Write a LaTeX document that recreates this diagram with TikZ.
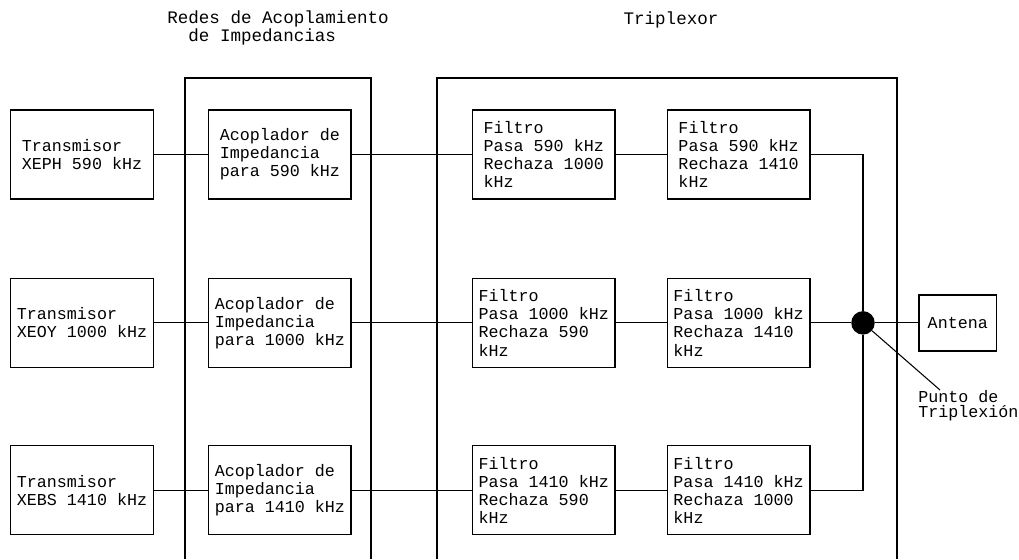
\documentclass[tikz,border=0pt]{standalone}
\usepackage{fontspec}
\setmainfont{Liberation Mono}
\usetikzlibrary{positioning}
\usetikzlibrary{calc}

\begin{document}
\begin{tikzpicture}[
    x=0.02cm, y=-0.02cm,
    caja/.style={rectangle, draw, line width=0.8pt, minimum width=2.85cm, minimum height=1.78cm,
    align=left, inner sep=0pt, font=\fontsize{9.5}{10.3}\selectfont},
    marco/.style={draw, line width=0.8pt},
    enlace/.style={draw, line width=0.6pt},
    punto/.style={circle, fill=black, inner sep=0pt, minimum size=0.47cm},
    titulo/.style={align=left, inner sep=0pt, font=\fontsize{10}{9}\selectfont}
    ]
\useasboundingbox (0,0) rectangle (1019,559);

%frames
\draw[marco] (185,559) -- (185,78) -- (371,78) -- (371,559);
\draw[marco] (437,559) -- (437,78) -- (897,78) -- (897,559);
\node[titulo] (tred) at (278,28) {Redes de Acoplamiento\\\hphantom{xx}de Impedancias};
\node[titulo] (ttri) at (671,20) {Triplexor};

%transmitters
\node[caja] (tx1) at (82,154.5) {Transmisor\\XEPH 590 kHz};
\node[caja, below=1.56cm of tx1] (tx2) {Transmisor\\XEOY 1000 kHz};
\node[caja, below=1.54cm of tx2] (tx3) {Transmisor\\XEBS 1410 kHz};

%impedance networks
\node[caja, right=1.08cm of tx1] (ac1) {Acoplador de\\Impedancia\\para 590 kHz};
\node[caja, right=1.08cm of tx2] (ac2) {Acoplador de\\Impedancia\\para 1000 kHz};
\node[caja, right=1.08cm of tx3] (ac3) {Acoplador de\\Impedancia\\para 1410 kHz};

%filters
\node[caja, right=2.4cm of ac1] (f11) {Filtro\\Pasa 590 kHz\\Rechaza 1000\\kHz};
\node[caja, right=2.4cm of ac2] (f21) {Filtro\\Pasa 1000 kHz\\Rechaza 590\\kHz};
\node[caja, right=2.4cm of ac3] (f31) {Filtro\\Pasa 1410 kHz\\Rechaza 590\\kHz};
\node[caja, right=1.02cm of f11] (f12) {Filtro\\Pasa 590 kHz\\Rechaza 1410\\kHz};
\node[caja, right=1.02cm of f21] (f22) {Filtro\\Pasa 1000 kHz\\Rechaza 1410\\kHz};
\node[caja, right=1.02cm of f31] (f32) {Filtro\\Pasa 1410 kHz\\Rechaza 1000\\kHz};

%triplexing point and antenna
\coordinate (xj) at (863,0);
\node[punto] (pt) at (f22.east -| xj) {};
\node[caja, minimum width=1.56cm, minimum height=1.12cm, right=0.86cm of pt] (ant) {Antena};
\node[titulo, anchor=north west, font=\fontsize{9.5}{8.3}\selectfont] (lblpt) at (918,390) {Punto de\\Triplexión};

\foreach \r in {1,2,3} {
    \draw[enlace] (tx\r) -- (ac\r);
    \draw[enlace] (ac\r) -- (f\r1);
    \draw[enlace] (f\r1) -- (f\r2);
}
\draw[enlace] (f12) -| (pt);
\draw[enlace] (f32) -| (pt);
\draw[enlace] (f22) -- (pt) -- (ant);
\draw[enlace] (pt) -- ([xshift=0.44cm]lblpt.north west);
\end{tikzpicture}
\end{document}
